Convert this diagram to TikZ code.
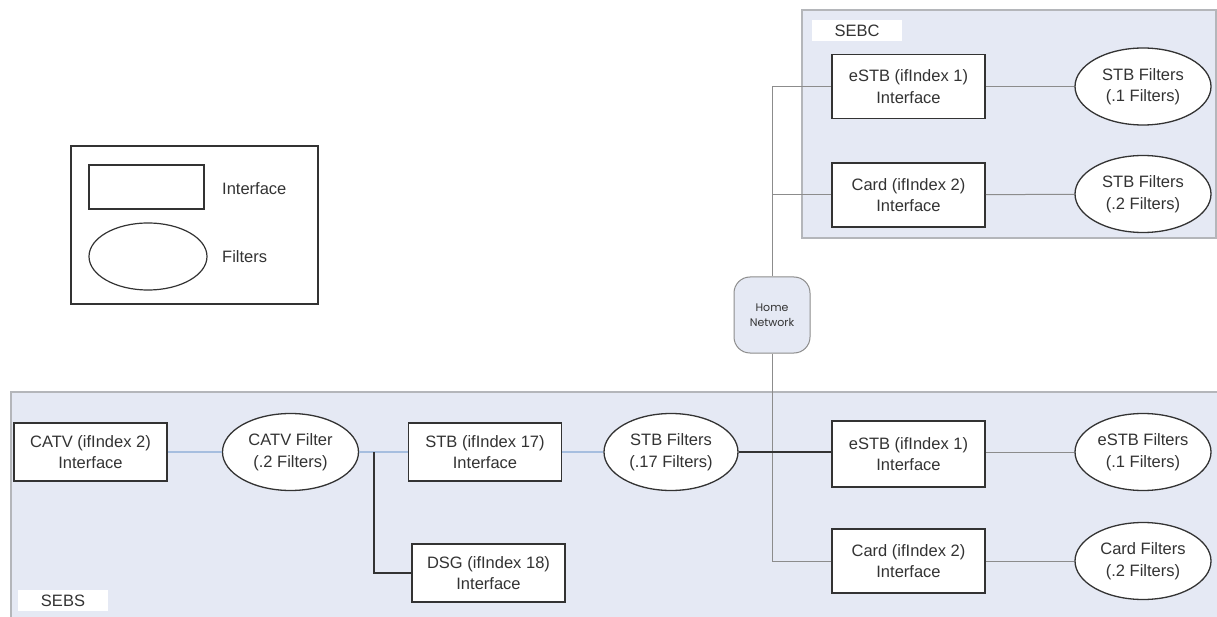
\documentclass[tikz,border=0pt]{standalone}
\usepackage{fontspec}
\setmainfont{Liberation Sans}
\newfontfamily\hnfont{Poppins}
\usetikzlibrary{shapes.geometric}

\definecolor{regionfill}{HTML}{E5E9F4}
\definecolor{regionline}{HTML}{B4B6BA}
\definecolor{boxline}{HTML}{333333}
\definecolor{textcol}{HTML}{333333}
\definecolor{linkgray}{HTML}{8C8C8C}
\definecolor{linkblue}{HTML}{A6BEDF}

\tikzset{
  region/.style={fill=regionfill, draw=regionline, line width=1.2pt},
  regionlabel/.style={fill=white, inner sep=0pt, minimum width=90pt, minimum height=21pt, text=textcol},
  ifbox/.style={draw=boxline, line width=1.6pt, fill=white, minimum width=153pt,
    minimum height=64pt, inner sep=0pt, align=center, text=textcol},
  filt/.style={ellipse, draw=boxline, line width=1.3pt, fill=white, minimum width=136pt,
    minimum height=77pt, inner sep=0pt, align=center, text=textcol},
  graylink/.style={draw=linkgray, line width=1pt},
  bluelink/.style={draw=linkblue, line width=1.2pt},
  darklink/.style={draw=boxline, line width=1.6pt},
  hubnode/.style={draw=linkgray, line width=1pt, fill=regionfill, rounded corners=16pt,
    minimum width=76pt, minimum height=76pt, inner sep=0pt, align=center,
    font=\hnfont\fontsize{11}{15}\selectfont, text=textcol},
  legendtext/.style={anchor=west, inner sep=0pt, text=textcol}
}

\begin{document}
\begin{tikzpicture}[x=1pt, y=-1pt, font=\fontsize{16.5}{21.5}\selectfont]
\useasboundingbox (0,0) rectangle (1217,617);

% shaded groups
\path[region] (802,10) rectangle (1216,238);
\path[region] (11,392) rectangle (1222,625);
\node[regionlabel] (sebc) at (857,30.5) {SEBC};
\node[regionlabel] (sebs) at (63,600.5) {SEBS};

% legend
\draw[boxline, line width=1.3pt] (71,146) rectangle (318,304);
\node[draw=boxline, line width=1.3pt, minimum width=115pt, minimum height=44pt, inner sep=0pt] (lgbox) at (146.5,187) {};
\node[ellipse, draw=boxline, line width=1.2pt, minimum width=118pt, minimum height=67pt, inner sep=0pt] (lgell) at (148,256.5) {};
\node[legendtext] (lgif) at (222,189) {Interface};
\node[legendtext] (lgfi) at (222,257) {Filters};

% home network hub
\node[hubnode] (hn) at (772,315) {Home\\Network};

% SEBC side
\node[ifbox] (estbC) at (908.5,86.5) {eSTB (ifIndex 1)\\Interface};
\node[ifbox] (cardC) at (908.5,195) {Card (ifIndex 2)\\Interface};
\node[filt] (stbfC1) at (1143,86.5) {STB Filters\\(.1 Filters)};
\node[filt] (stbfC2) at (1143,194) {STB Filters\\(.2 Filters)};

% SEBS side
\node[ifbox, minimum height=58pt] (catv) at (90.5,452) {CATV (ifIndex 2)\\Interface};
\node[filt] (catvf) at (290.5,452) {CATV Filter\\(.2 Filters)};
\node[ifbox, minimum height=58pt] (stb) at (485,452) {STB (ifIndex 17)\\Interface};
\node[filt, minimum width=134pt] (stbf) at (671,452) {STB Filters\\(.17 Filters)};
\node[ifbox, minimum height=58pt] (dsg) at (488.5,573) {DSG (ifIndex 18)\\Interface};
\node[ifbox, minimum height=66pt] (estbS) at (908.5,454) {eSTB (ifIndex 1)\\Interface};
\node[ifbox] (cardS) at (908.5,561) {Card (ifIndex 2)\\Interface};
\node[filt] (estbfS) at (1143,452) {eSTB Filters\\(.1 Filters)};
\node[filt] (cardfS) at (1143,561) {Card Filters\\(.2 Filters)};

% connectors
\coordinate (split) at (374,452);
\path[bluelink] (catv) -- (catvf);
\path[bluelink] (catvf) -- (stb);
\path[darklink] (split) |- (dsg.west);
\path[bluelink] (stb) -- (stbf);

\path[graylink] (estbC.west) -| (hn.north);
\path[graylink] (cardC.west) -- (cardC.west -| hn.north);
\path[graylink] (hn.south) |- (cardS.west);
\path[darklink] (stbf.east) -- (estbS.west |- stbf.east);

\path[graylink] (estbC) -- (stbfC1);
\path[graylink] (cardC) -- (stbfC2);
\path[graylink] (estbS.east |- estbfS.west) -- (estbfS);
\path[graylink] (cardS) -- (cardfS);
\end{tikzpicture}
\end{document}
